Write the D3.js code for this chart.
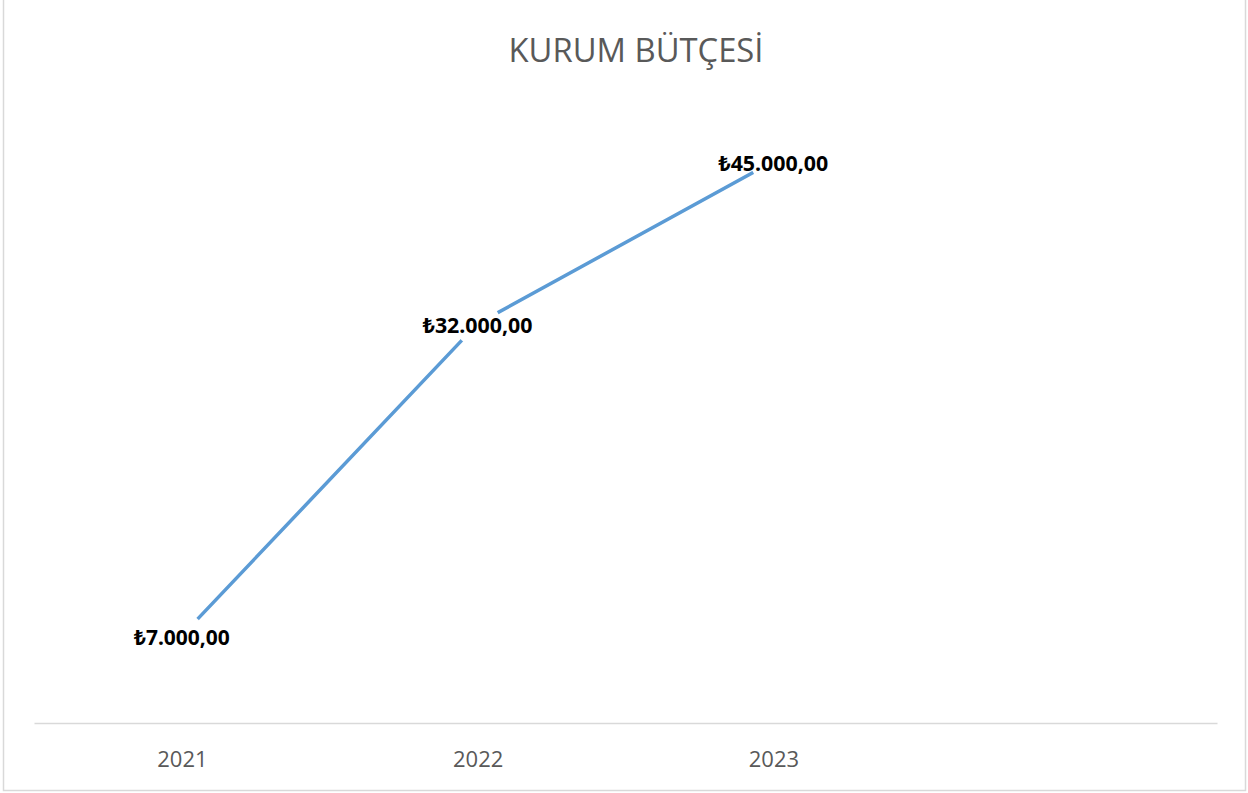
<!DOCTYPE html>
<html>
<head>
<meta charset="utf-8">
<script src="https://cdn.jsdelivr.net/npm/d3@7"></script>
<style>
  html, body { margin: 0; padding: 0; background: #fff; }
  svg { display: block; }
</style>
</head>
<body>
<svg id="chart" width="1248" height="793"></svg>
<script>
const title = "KURUM BÜTÇESİ";
const categories = ["2021", "2022", "2023", ""];
const values = [7000, 32000, 45000];
const yDomain = [0, 50000];

const fmt = v => "₺" + d3.format(",.2f")(v).replace(/,/g, "#").replace(/\./g, ",").replace(/#/g, ".");

const svg = d3.select("#chart");
const W = 1248, H = 793;

svg.append("rect").attr("x", 0).attr("y", 0).attr("width", W).attr("height", H).attr("fill", "#fff");
// outer border (top edge cropped in reference)
svg.append("path")
  .attr("d", `M3.5,-2 V790.5 H1245.5 V-2`)
  .attr("fill", "none").attr("stroke", "#d9d9d9").attr("stroke-width", 1.5);

const x = d3.scalePoint().domain(categories).range([34, 1217]).padding(0.5);
const y = d3.scaleLinear().domain(yDomain).range([723, 99]);

// title
const t = svg.append("text")
  .attr("x", 636).attr("y", 62)
  .attr("text-anchor", "middle")
  .attr("font-family", "'Open Sans', 'Noto Sans', sans-serif")
  .attr("font-size", 32)
  .attr("fill", "#595959")
  .text(title);
{
  const w = t.node().getComputedTextLength();
  t.attr("font-size", 32 * 255 / w);
}

// x axis
const xAxis = d3.axisBottom(x).tickSize(0).tickPadding(0);
const gx = svg.append("g").attr("transform", `translate(0,${y(0)})`).call(xAxis);
gx.select(".domain").attr("stroke", "#d9d9d9").attr("stroke-width", 1.5);
gx.selectAll(".tick text")
  .attr("dy", 0).attr("y", 44)
  .attr("font-family", "'Open Sans', 'Noto Sans', sans-serif")
  .attr("font-size", 22)
  .attr("fill", "#595959");

// line, gapped around each data point (as in reference)
const pts = values.map((v, i) => [x(categories[i]), y(v)]);
const defs = svg.append("defs");
const mask = defs.append("mask").attr("id", "gapmask").attr("maskUnits", "userSpaceOnUse")
  .attr("x", 0).attr("y", 0).attr("width", W).attr("height", H);
mask.append("rect").attr("x", 0).attr("y", 0).attr("width", W).attr("height", H).attr("fill", "#fff");
mask.selectAll("circle").data(pts).join("circle")
  .attr("cx", d => d[0]).attr("cy", d => d[1]).attr("r", 23).attr("fill", "#000");

svg.append("path")
  .attr("d", d3.line()(pts))
  .attr("fill", "none")
  .attr("stroke", "#5b9bd5")
  .attr("stroke-width", 3.5)
  .attr("stroke-linejoin", "round")
  .attr("mask", "url(#gapmask)");

// labels
const lg = svg.append("g");
values.forEach((v, i) => {
  const tx = lg.append("text")
    .attr("x", pts[i][0]).attr("y", pts[i][1] + 2)
    .attr("dy", "0.35em")
    .attr("text-anchor", "middle")
    .attr("font-family", "'Noto Sans', 'DejaVu Sans', sans-serif")
    .attr("font-weight", "bold")
    .attr("font-size", 20)
    .attr("fill", "#000")
    .text(fmt(v));
  const targetW = [96, 110, 110][i];
  const w = tx.node().getComputedTextLength();
  tx.attr("font-size", 20 * targetW / w);
});
</script>
</body>
</html>
